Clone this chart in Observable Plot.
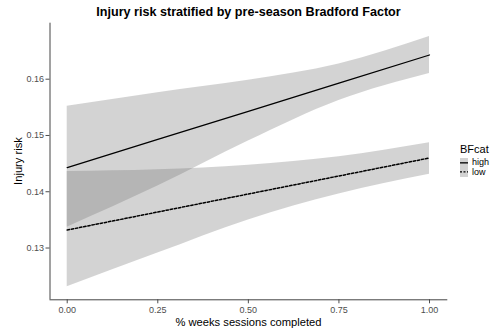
<!DOCTYPE html>
<html>
<head>
<meta charset="utf-8">
<script src="https://cdn.jsdelivr.net/npm/d3@7"></script>
<script src="https://cdn.jsdelivr.net/npm/@observablehq/plot@0.6"></script>
<style>
  html, body { margin: 0; padding: 0; background: #fff; }
  #wrap { position: relative; width: 492px; height: 336px; font-family: "Liberation Sans", Arial, sans-serif; }
  #wrap svg { position: absolute; left: 0; top: 0; }
  .title { position: absolute; left: 49.5px; width: 398px; top: 5px; text-align: center; font-weight: bold; font-size: 12.6px; line-height: 1.15; color: #000; white-space: nowrap; }
  .xlab { position: absolute; left: 49.5px; width: 398px; top: 315.5px; text-align: center; font-size: 11.2px; line-height: 1.15; color: #000; white-space: nowrap; }
  .ylab { position: absolute; left: 18px; top: 161px; transform: translate(-50%, -50%) rotate(-90deg); font-size: 11.2px; line-height: 1.15; color: #000; white-space: nowrap; }
  .legend { position: absolute; left: 460px; top: 143px; font-size: 9px; color: #000; }
  .legend .lt { font-size: 11px; line-height: 1.15; margin-bottom: 2px; }
  .legend .row { display: flex; align-items: center; height: 9.7px; }
  .legend .key { width: 8px; height: 9.7px; background: #d2d2d2; position: relative; margin-right: 4px; }
  .legend .key svg { position: absolute; left: 0; top: 0; }
</style>
</head>
<body>
<div id="wrap"></div>
<script>
// Data
const groups = ["high", "low"];
const xs = [0, 0.25, 0.5, 0.75, 1];
const highFit = [0.1443, 0.1493, 0.1543, 0.1593, 0.1643];
const highLo  = [0.1337, 0.1410, 0.1490, 0.1562, 0.1610];
const highHi  = [0.1552, 0.1576, 0.1598, 0.1627, 0.1676];
const lowFit  = [0.1332, 0.1364, 0.1396, 0.1428, 0.1460];
const lowLo   = [0.1231, 0.1291, 0.1350, 0.1396, 0.1431];
const lowHi   = [0.1436, 0.1439, 0.1447, 0.1462, 0.1487];
const xTicks = [0, 0.25, 0.5, 0.75, 1];
const yTicks = [0.13, 0.14, 0.15, 0.16];
const xDomain = [-0.0475, 1.0505];
const yDomain = [0.1208, 0.16995];

const titleText = "Injury risk stratified by pre-season Bradford Factor";
const xLabel = "% weeks sessions completed";
const yLabel = "Injury risk";
const legendTitle = "BFcat";

const series = {
  high: {fit: highFit, lo: highLo, hi: highHi},
  low: {fit: lowFit, lo: lowLo, hi: lowHi}
};
const rows = groups.flatMap(g => xs.map((x, i) => ({
  BFcat: g, x, fit: series[g].fit[i], lo: series[g].lo[i], hi: series[g].hi[i]
})));

const chart = Plot.plot({
  width: 492,
  height: 336,
  marginLeft: 49.5,
  marginRight: 44.7,
  marginTop: 22.7,
  marginBottom: 36.7,
  style: {fontFamily: "'Liberation Sans', Arial, sans-serif", fontSize: "9px", color: "#4d4d4d", background: "transparent"},
  x: {domain: xDomain, ticks: xTicks, tickFormat: d3.format(".2f"), label: null, tickSize: 4, tickPadding: 3},
  y: {domain: yDomain, ticks: yTicks, tickFormat: d3.format(".2f"), label: null, tickSize: 4, tickPadding: 2},
  marks: [
    Plot.areaY(rows, {x: "x", y1: "lo", y2: "hi", z: "BFcat", fill: "#777", fillOpacity: 0.32, curve: "monotone-x"}),
    Plot.lineY(rows.filter(d => d.BFcat === "high"), {x: "x", y: "fit", stroke: "#000", strokeWidth: 1.3}),
    Plot.lineY(rows.filter(d => d.BFcat === "low"), {x: "x", y: "fit", stroke: "#000", strokeWidth: 1.5, strokeDasharray: "2.4,1.8"}),
    Plot.ruleX([xDomain[0]], {stroke: "#444", strokeWidth: 1}),
    Plot.ruleY([yDomain[0]], {stroke: "#444", strokeWidth: 1})
  ]
});

const wrap = document.getElementById("wrap");
wrap.appendChild(chart);

function addDiv(cls, text) {
  const d = document.createElement("div");
  d.className = cls;
  d.textContent = text;
  wrap.appendChild(d);
  return d;
}
addDiv("title", titleText);
addDiv("xlab", xLabel);
addDiv("ylab", yLabel);

const legend = document.createElement("div");
legend.className = "legend";
const lt = document.createElement("div");
lt.className = "lt";
lt.textContent = legendTitle;
legend.appendChild(lt);
groups.forEach(g => {
  const row = document.createElement("div");
  row.className = "row";
  const key = document.createElement("div");
  key.className = "key";
  const dash = g === "low" ? ' stroke-dasharray="2,1.5"' : '';
  key.innerHTML = `<svg width="8" height="9.7"><line x1="0" x2="8" y1="4.85" y2="4.85" stroke="#000" stroke-width="1.3"${dash}/></svg>`;
  row.appendChild(key);
  const lab = document.createElement("span");
  lab.textContent = g;
  row.appendChild(lab);
  legend.appendChild(row);
});
wrap.appendChild(legend);
</script>
</body>
</html>
